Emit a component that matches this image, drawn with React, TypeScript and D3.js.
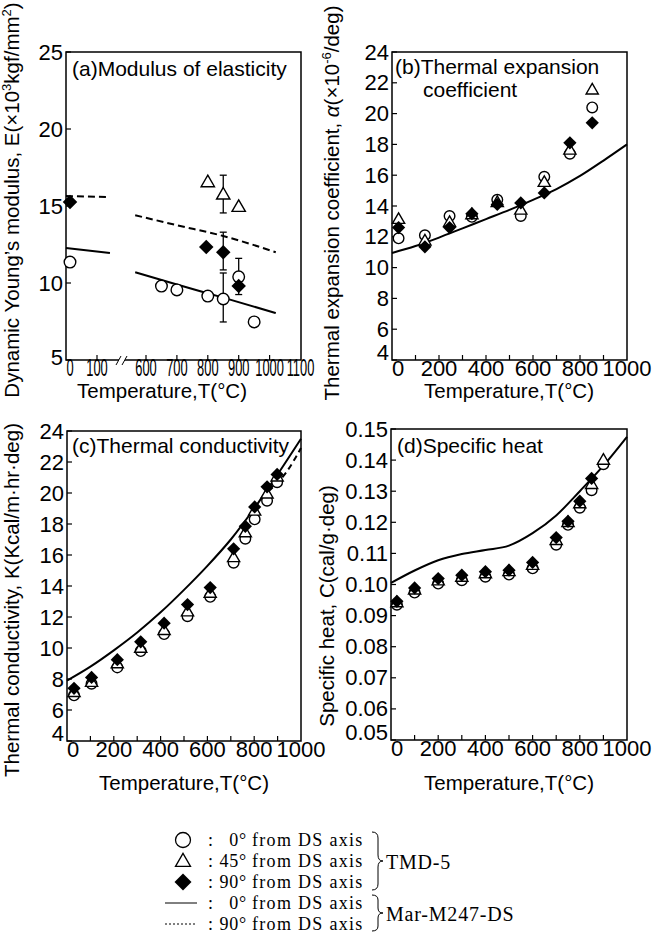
import React from 'react';
import * as d3 from 'd3';

const FONT = "'Liberation Sans', Arial, Helvetica, sans-serif";
const SERIF = "'Liberation Serif', 'Times New Roman', serif";

// ---------- (a) Modulus of elasticity ----------
const aYTicks = [5, 10, 15, 20, 25];
const aXTicksLeft = [0, 100];
const aXTicksRight = [600, 700, 800, 900, 1000, 1100];
const aCircleT = [0, 650, 700, 800, 850, 900, 950];
const aCircleE = [11.36, 9.8, 9.55, 9.15, 8.96, 10.4, 7.47];
const aTriT = [800, 850, 900];
const aTriE = [16.5, 15.7, 14.9];
const aDiaT = [0, 795, 850, 900];
const aDiaE = [15.26, 12.34, 12.0, 9.8];
const aErrT = [850, 850, 850, 900];
const aErrLo = [14.55, 10.85, 7.47, 9.25];
const aErrHi = [17.0, 13.3, 10.65, 11.6];
const aLeftLineT = [-15, 148];
const aLeftSolid = [12.27, 11.95];
const aLeftDashed = [15.65, 15.58];
const aRightLineT = [565, 700, 850, 1020];
const aRightSolid = [10.7, 9.9, 9.05, 8.05];
const aRightDashed = [14.4, 13.75, 13.05, 12.0];

// ---------- (b) Thermal expansion ----------
const bYTicks = [4, 6, 8, 10, 12, 14, 16, 18, 20, 22, 24];
const bXTicks = [0, 200, 400, 600, 800, 1000];
const bT = [28, 140, 245, 340, 448, 548, 648, 757, 852];
const bCircle = [11.9, 12.1, 13.35, 13.3, 14.4, 13.35, 15.9, 17.4, 20.4];
const bTri = [13.1, 11.7, 12.9, 13.4, 14.2, 13.7, 15.5, 17.6, 21.5];
const bDia = [12.6, 11.35, 12.6, 13.5, 14.1, 14.2, 14.85, 18.1, 19.4];
const bLineT = [0, 100, 200, 300, 400, 500, 600, 700, 800, 900, 1000];
const bLine = [10.95, 11.4, 11.95, 12.55, 13.15, 13.75, 14.4, 15.1, 15.95, 16.95, 18.0];

// ---------- (c) Thermal conductivity ----------
const cYTicks = [4, 6, 8, 10, 12, 14, 16, 18, 20, 22, 24];
const cXTicks = [0, 200, 400, 600, 800, 1000];
const cT = [30, 105, 215, 315, 415, 515, 612, 712, 762, 802, 855, 898];
const cCircle = [6.95, 7.7, 8.75, 9.8, 10.9, 12.05, 13.3, 15.5, 17.05, 18.3, 19.5, 20.7];
const cTri = [7.1, 7.75, 8.95, 9.95, 11.1, 12.3, 13.5, 15.8, 17.4, 18.8, 19.9, 21.0];
const cDia = [7.4, 8.1, 9.25, 10.4, 11.6, 12.8, 13.9, 16.4, 17.85, 19.1, 20.4, 21.2];
const cLineT = [0, 100, 200, 300, 400, 500, 600, 700, 800, 900, 1000];
const cSolid = [7.9, 8.8, 9.85, 11.0, 12.3, 13.75, 15.3, 17.0, 19.0, 21.2, 23.5];
const cDashT = [860, 940, 1000];
const cDashed = [20.1, 21.4, 22.9];

// ---------- (d) Specific heat ----------
const dYTicks = [0.05, 0.06, 0.07, 0.08, 0.09, 0.1, 0.11, 0.12, 0.13, 0.14, 0.15];
const dXTicks = [0, 200, 400, 600, 800, 1000];
const dT = [25, 100, 200, 300, 400, 500, 600, 700, 750, 800, 850, 900];
const dCircle = [0.0935, 0.0974, 0.1003, 0.1014, 0.1025, 0.1032, 0.1052, 0.1128, 0.1192, 0.1247, 0.1303, 0.1387];
const dTri = [0.094, 0.0981, 0.101, 0.1022, 0.1033, 0.104, 0.106, 0.114, 0.1198, 0.1258, 0.132, 0.1398];
const dDiaT = [25, 100, 200, 300, 400, 500, 600, 700, 750, 800, 850];
const dDia = [0.0946, 0.0989, 0.1019, 0.103, 0.1041, 0.1046, 0.1071, 0.1151, 0.1203, 0.1268, 0.1341];
const dLineT = [0, 100, 200, 300, 400, 500, 600, 700, 800, 900, 1000];
const dLine = [0.1005, 0.1045, 0.1078, 0.1098, 0.1111, 0.1125, 0.1165, 0.1222, 0.13, 0.1382, 0.1475];

// ---------- legend ----------
const legendDeg = ['0°', '45°', '90°', '0°', '90°'];
const legendGroups = ['TMD-5', 'Mar-M247-DS'];

type F = (v: number) => number;

const diamondPath = (cx: number, cy: number, r: number) =>
  `M${cx},${cy - r}L${cx + r},${cy}L${cx},${cy + r}L${cx - r},${cy}Z`;
const triPath = (cx: number, cy: number, s: number) => {
  const h = s * 0.866;
  return `M${cx},${cy - (h * 2) / 3}L${cx + s / 2},${cy + h / 3}L${cx - s / 2},${cy + h / 3}Z`;
};

function lineD(xs: F, ys: F, T: number[], V: number[]) {
  const g = d3
    .line<number>()
    .x((i) => xs(T[i]))
    .y((i) => ys(V[i]))
    .curve(d3.curveMonotoneX);
  return g(T.map((_, i) => i)) || '';
}

function Markers({ xs, ys, cT, cV, tT, tV, dT, dV, r = 5.5 }: any) {
  return (
    <g>
      {cT.map((t: number, i: number) => (
        <circle key={'c' + i} cx={xs(t)} cy={ys(cV[i])} r={r} fill="#fff" stroke="#000" strokeWidth={1.4} />
      ))}
      {tT.map((t: number, i: number) => (
        <path key={'t' + i} d={triPath(xs(t), ys(tV[i]), r * 2.3)} fill="#fff" stroke="#000" strokeWidth={1.4} />
      ))}
      {dT.map((t: number, i: number) => (
        <path key={'d' + i} d={diamondPath(xs(t), ys(dV[i]), r * 1.25)} fill="#000" />
      ))}
    </g>
  );
}

function YAxis({ x0, ys, ticks, fmt, lastShift }: any) {
  return (
    <g>
      {ticks.map((t: number, i: number) => (
        <g key={i}>
          <line x1={x0} x2={x0 + 5} y1={ys(t)} y2={ys(t)} stroke="#000" strokeWidth={1.2} />
          <text
            x={x0 - 3}
            y={ys(t) + (i === 0 ? lastShift : 0)}
            textAnchor="end"
            dominantBaseline="central"
            fontSize={22}
            fontFamily={FONT}
          >
            {fmt(t)}
          </text>
        </g>
      ))}
    </g>
  );
}

function XAxis({ xs, y1, ticks, minor }: any) {
  return (
    <g>
      {minor.map((t: number, i: number) => (
        <line key={'m' + i} x1={xs(t)} x2={xs(t)} y1={y1} y2={y1 - 5} stroke="#000" strokeWidth={1.2} />
      ))}
      {ticks.map((t: number, i: number) => (
        <text
          key={i}
          x={xs(t) + (i === 0 ? 6 : 0)}
          y={y1 + 16}
          textAnchor="middle"
          fontSize={22}
          fontFamily={FONT}
        >
          {t}
        </text>
      ))}
    </g>
  );
}

export default function App() {
  // (a)
  const yA = d3.scaleLinear().domain([5, 25]).range([360, 52]);
  const xAL = d3.scaleLinear().domain([0, 100]).range([70, 97]);
  const xAR = d3.scaleLinear().domain([600, 1100]).range([146, 300.5]);
  const xA = (t: number) => (t < 300 ? xAL(t) : xAR(t));
  // (b)
  const xB = d3.scaleLinear().domain([0, 1000]).range([392, 627]);
  const yB = d3.scaleLinear().domain([4, 24]).range([360, 52]);
  // (c)
  const xC = d3.scaleLinear().domain([0, 1000]).range([67, 301]);
  const yC = d3.scaleLinear().domain([4, 24]).range([741, 431]);
  // (d)
  const xD = d3.scaleLinear().domain([0, 1000]).range([391, 627]);
  const yD = d3.scaleLinear().domain([0.05, 0.15]).range([740, 429]);

  const minor = [100, 200, 300, 400, 500, 600, 700, 800, 900];
  const lw = 2;
  const legY = [840, 861, 882, 903, 924];

  return (
    <svg
      width={657}
      height={945}
      viewBox="0 0 657 945"
      style={{ position: 'absolute', left: 0, top: 0, background: '#fff' }}
      fontFamily={FONT}
    >
      <rect x={0} y={0} width={657} height={945} fill="#fff" />

      {/* ===== (a) ===== */}
      <g>
        <path
          d={`M119,360L66,360L66,52L301,52L301,360L125,360`}
          fill="none"
          stroke="#000"
          strokeWidth={1.5}
        />
        <line x1={116} y1={365} x2={121} y2={356} stroke="#000" strokeWidth={1} />
        <line x1={122} y1={365} x2={127} y2={356} stroke="#000" strokeWidth={1} />
        <YAxis x0={66} ys={yA} ticks={aYTicks} fmt={(t: number) => String(t)} lastShift={-3} />
        {aXTicksLeft.concat(aXTicksRight).map((t, i) => (
          <g key={i}>
            {t > 0 && t < 1100 && (
              <line x1={xA(t)} x2={xA(t)} y1={360} y2={355} stroke="#000" strokeWidth={1.2} />
            )}
            <text
              transform={`translate(${xA(t)},376) scale(0.56,1)`}
              textAnchor="middle"
              fontSize={23}
              fontFamily={FONT}
            >
              {t}
            </text>
          </g>
        ))}
        <text x={72} y={76} fontSize={21} fontFamily={FONT}>
          (a)Modulus of elasticity
        </text>
        <path d={lineD(xA, yA, aLeftLineT, aLeftSolid)} fill="none" stroke="#000" strokeWidth={lw} />
        <path
          d={lineD(xA, yA, aLeftLineT, aLeftDashed)}
          fill="none"
          stroke="#000"
          strokeWidth={lw}
          strokeDasharray="7,4"
        />
        <path d={lineD(xA, yA, aRightLineT, aRightSolid)} fill="none" stroke="#000" strokeWidth={lw} />
        <path
          d={lineD(xA, yA, aRightLineT, aRightDashed)}
          fill="none"
          stroke="#000"
          strokeWidth={lw}
          strokeDasharray="7,4"
        />
        {aErrT.map((t, i) => (
          <g key={i} stroke="#000" strokeWidth={1.3}>
            <line x1={xA(t)} x2={xA(t)} y1={yA(aErrLo[i])} y2={yA(aErrHi[i])} />
            <line x1={xA(t) - 3.5} x2={xA(t) + 3.5} y1={yA(aErrLo[i])} y2={yA(aErrLo[i])} />
            <line x1={xA(t) - 3.5} x2={xA(t) + 3.5} y1={yA(aErrHi[i])} y2={yA(aErrHi[i])} />
          </g>
        ))}
        <Markers xs={xA} ys={yA} cT={aCircleT} cV={aCircleE} tT={aTriT} tV={aTriE} dT={aDiaT} dV={aDiaE} r={5.8} />
        <text x={162} y={398} textAnchor="middle" fontSize={20.5} fontFamily={FONT}>
          Temperature,T(°C)
        </text>
        <text transform="translate(19,200) rotate(-90)" textAnchor="middle" fontSize={20.5} fontFamily={FONT}>
          Dynamic Young’s modulus, E(×10
          <tspan fontSize={13} dy={-8}>3</tspan>
          <tspan dy={8}>kgf/mm</tspan>
          <tspan fontSize={13} dy={-8}>2</tspan>
          <tspan dy={8}>)</tspan>
        </text>
      </g>

      {/* ===== (b) ===== */}
      <g>
        <rect x={392} y={52} width={235} height={308} fill="none" stroke="#000" strokeWidth={1.5} />
        <YAxis x0={392} ys={yB} ticks={bYTicks} fmt={(t: number) => String(t)} lastShift={-8} />
        <XAxis xs={xB} y1={360} ticks={bXTicks} minor={minor} />
        <text x={395} y={74} fontSize={21} fontFamily={FONT}>
          (b)Thermal expansion
        </text>
        <text x={423} y={97} fontSize={21} fontFamily={FONT}>
          coefficient
        </text>
        <path d={lineD(xB, yB, bLineT, bLine)} fill="none" stroke="#000" strokeWidth={lw} />
        <Markers xs={xB} ys={yB} cT={bT} cV={bCircle} tT={bT} tV={bTri} dT={bT} dV={bDia} r={5.3} />
        <text x={509} y={398} textAnchor="middle" fontSize={20.5} fontFamily={FONT}>
          Temperature,T(°C)
        </text>
        <text transform="translate(339,203) rotate(-90)" textAnchor="middle" fontSize={20.5} fontFamily={FONT}>
          Thermal expansion coefficient, <tspan fontStyle="italic">α</tspan>(×10
          <tspan fontSize={13} dy={-8}>-6</tspan>
          <tspan dy={8}>/deg)</tspan>
        </text>
      </g>

      {/* ===== (c) ===== */}
      <g>
        <rect x={67} y={431} width={234} height={310} fill="none" stroke="#000" strokeWidth={1.5} />
        <YAxis x0={67} ys={yC} ticks={cYTicks} fmt={(t: number) => String(t)} lastShift={-8} />
        <XAxis xs={xC} y1={741} ticks={cXTicks} minor={minor} />
        <text x={72} y={453} fontSize={21} fontFamily={FONT}>
          (c)Thermal conductivity
        </text>
        <path d={lineD(xC, yC, cLineT, cSolid)} fill="none" stroke="#000" strokeWidth={lw} />
        <path
          d={lineD(xC, yC, cDashT, cDashed)}
          fill="none"
          stroke="#000"
          strokeWidth={lw}
          strokeDasharray="6,4"
        />
        <Markers xs={xC} ys={yC} cT={cT} cV={cCircle} tT={cT} tV={cTri} dT={cT} dV={cDia} r={5.3} />
        <text x={184} y={790} textAnchor="middle" fontSize={20.5} fontFamily={FONT}>
          Temperature,T(°C)
        </text>
        <text transform="translate(19,600) rotate(-90)" textAnchor="middle" fontSize={20.5} fontFamily={FONT}>
          Thermal conductivity, K(Kcal/m·hr·deg)
        </text>
      </g>

      {/* ===== (d) ===== */}
      <g>
        <rect x={391} y={429} width={236} height={311} fill="none" stroke="#000" strokeWidth={1.5} />
        <YAxis
          x0={391}
          ys={yD}
          ticks={dYTicks}
          fmt={(t: number) => d3.format('.2f')(t)}
          lastShift={-8}
        />
        <XAxis xs={xD} y1={740} ticks={dXTicks} minor={minor} />
        <text x={397} y={453} fontSize={21} fontFamily={FONT}>
          (d)Specific heat
        </text>
        <path d={lineD(xD, yD, dLineT, dLine)} fill="none" stroke="#000" strokeWidth={lw} />
        <Markers xs={xD} ys={yD} cT={dT} cV={dCircle} tT={dT} tV={dTri} dT={dDiaT} dV={dDia} r={5.3} />
        <text x={509} y={790} textAnchor="middle" fontSize={20.5} fontFamily={FONT}>
          Temperature,T(°C)
        </text>
        <text transform="translate(334,606) rotate(-90)" textAnchor="middle" fontSize={20.5} fontFamily={FONT}>
          Specific heat, C(cal/g·deg)
        </text>
      </g>

      {/* ===== legend ===== */}
      <g fontFamily={SERIF} fontSize={18}>
        <circle cx={183} cy={legY[0]} r={7.5} fill="#fff" stroke="#000" strokeWidth={1.3} />
        <path d={triPath(183, legY[1] + 1, 15)} fill="#fff" stroke="#000" strokeWidth={1.3} />
        <path d={diamondPath(183, legY[2], 8.5)} fill="#000" />
        <line x1={165} x2={197} y1={legY[3]} y2={legY[3]} stroke="#000" strokeWidth={1} />
        <line x1={165} x2={197} y1={legY[4]} y2={legY[4]} stroke="#000" strokeWidth={1} strokeDasharray="2,2" />
        {legendDeg.map((s, i) => (
          <g key={i}>
            <text x={208} y={legY[i]} dominantBaseline="central">
              :
            </text>
            <text x={247} y={legY[i]} textAnchor="end" dominantBaseline="central" letterSpacing={0.8}>
              {s}
            </text>
            <text x={252} y={legY[i]} dominantBaseline="central" letterSpacing={1.3}>
              from DS axis
            </text>
          </g>
        ))}
        <path
          d="M372,832 Q378,832 378,838 L378,855 Q378,861 383,861 Q378,861 378,867 L378,884 Q378,890 372,890"
          fill="none"
          stroke="#000"
          strokeWidth={1}
        />
        <text x={386} y={862} dominantBaseline="central" fontSize={20} letterSpacing={0.8}>
          {legendGroups[0]}
        </text>
        <path
          d="M372,895 Q378,895 378,900 L378,908 Q378,913 383,913 Q378,913 378,918 L378,926 Q378,931 372,931"
          fill="none"
          stroke="#000"
          strokeWidth={1}
        />
        <text x={386} y={914} dominantBaseline="central" fontSize={20} letterSpacing={0.8}>
          {legendGroups[1]}
        </text>
      </g>
    </svg>
  );
}
